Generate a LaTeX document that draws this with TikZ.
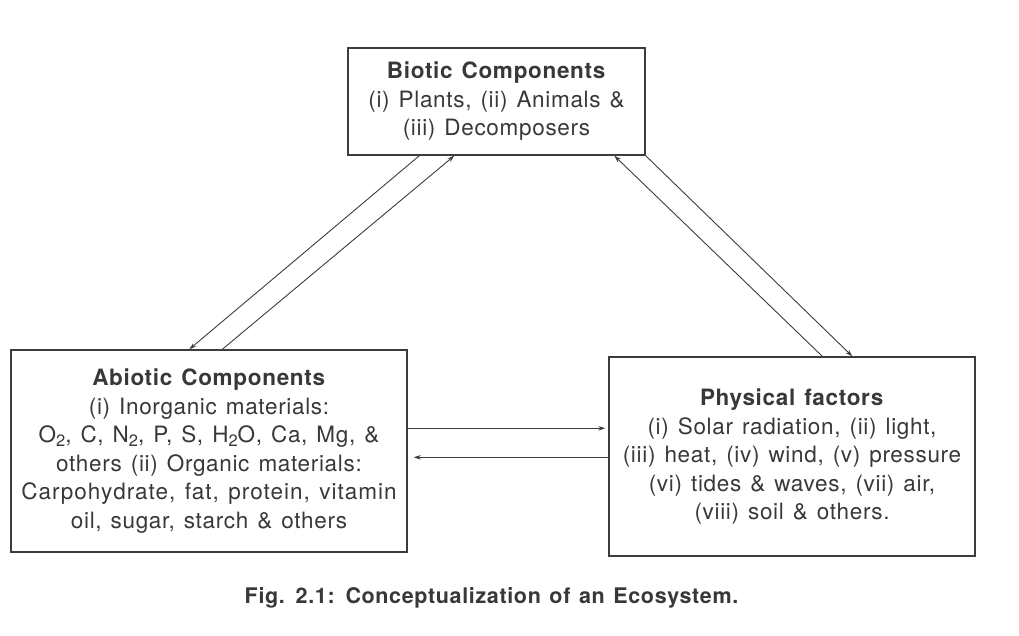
\documentclass[tikz,border=0pt]{standalone}
\usepackage{fontspec}
\setmainfont{TeX Gyre Heros}[LetterSpace=3.0, WordSpace=1.3]
\usetikzlibrary{arrows.meta,calc}
\definecolor{inkline}{HTML}{3C3C3C}
\definecolor{inktext}{HTML}{383838}
\newcommand{\chemsub}[1]{\raisebox{-0.35ex}{\fontsize{16.5}{16.5}\selectfont #1}}
\begin{document}
\begin{tikzpicture}[x=1pt,y=-1pt,
  box/.style={draw=inkline, line width=1.4pt, inner sep=0pt, align=center,
    text=inktext, font=\fontsize{22.5}{28.5}\selectfont},
  link/.style={draw=inkline, line width=0.9pt, -{Stealth[length=7pt,width=4.5pt]}}]
\useasboundingbox (0,0) rectangle (1019,635);

% the three components of the ecosystem
\node[box, minimum width=297pt, minimum height=107pt] (bio) at (496.5,101.5)
  {\textbf{Biotic Components}\\(i) Plants, (ii) Animals \&\\(iii) Decomposers};
\node[box, minimum width=396pt, minimum height=202pt] (abio) at (209,451)
  {\textbf{Abiotic Components}\\(i) Inorganic materials:\\
   O\chemsub{2}, C, N\chemsub{2}, P, S, H\chemsub{2}O, Ca, Mg, \&\\
   others (ii) Organic materials:\\{\addfontfeature{LetterSpace=4.5}Carpohydrate, fat, protein, vitamin}\\
   oil, sugar, starch \& others};
\node[box, minimum width=366pt, minimum height=199pt] (phys) at (792,456.5)
  {\textbf{Physical factors}\\(i) Solar radiation, (ii) light,\\
   (iii) heat, (iv) wind, (v) pressure\\(vi) tides \& waves, (vii) air,\\
   (viii) soil \& others.};

% exchanges between biotic and abiotic components
\draw[link] ($(bio.south west)+(72,0)$) -- ($(abio.north west)+(179,0)$);
\draw[link] ($(abio.north west)+(212,0)$) -- ($(bio.south west)+(107,0)$);

% exchanges between biotic components and physical factors
\draw[link] ($(phys.north west)+(214,0)$) -- ($(bio.south west)+(267,0)$);
\draw[link] (bio.south east) -- ($(phys.north west)+(244,0)$);

% exchanges between abiotic components and physical factors
\draw[link] ($(abio.north east)+(0,79)$) -- ($(phys.north west)+(-3,72)$);
\draw[link] ($(phys.north west)+(0,101)$) -- ($(abio.north east)+(6,108)$);

% caption
\node[text=inktext, font=\fontsize{21.5}{24}\selectfont\bfseries] (caption) at (491.5,598)
  {Fig. 2.1: Conceptualization of an Ecosystem.};
\end{tikzpicture}
\end{document}
